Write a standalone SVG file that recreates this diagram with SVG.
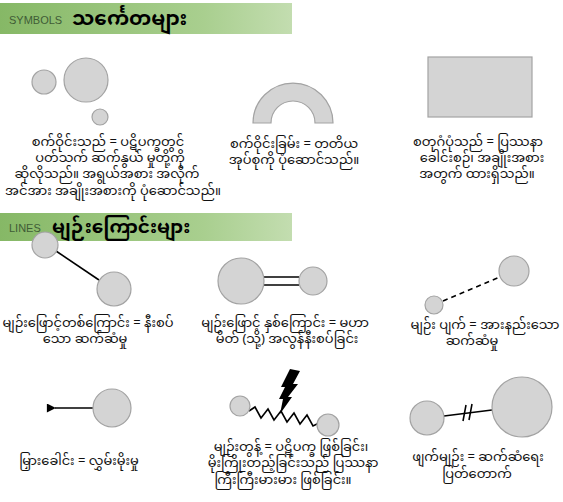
<svg xmlns="http://www.w3.org/2000/svg" width="563" height="502" viewBox="0 0 563 502">
<defs>
<linearGradient id="hdr" x1="0" y1="0" x2="1" y2="0">
<stop offset="0" stop-color="#86b866"/>
<stop offset="0.7" stop-color="#a9cf8f"/>
<stop offset="1" stop-color="#c3ddb0"/>
</linearGradient>
<marker id="arrow" viewBox="0 0 10 10" refX="1" refY="5" markerWidth="11" markerHeight="9" markerUnits="userSpaceOnUse" orient="auto">
<path d="M10,0 L0,5 L10,10 z" fill="#000"/>
</marker>
<style>
.shape{fill:#d4d4d4;stroke:#a3a3a3;stroke-width:1.2}
.t{font-family:"Noto Sans Myanmar","Padauk","Myanmar Text","Noto Sans","DejaVu Sans",sans-serif;font-size:13px;fill:#111;text-anchor:middle}
.h{font-family:"Noto Sans Myanmar","Padauk","Myanmar Text","Noto Sans","DejaVu Sans",sans-serif;font-weight:bold;fill:#000}
.hl{font-family:"Liberation Sans Narrow","Liberation Sans","DejaVu Sans Condensed",sans-serif;font-size:11px;fill:#3f5c36}
.ln{stroke:#000;stroke-width:1.6;fill:none}
</style>
</defs>
<rect width="563" height="502" fill="#fff"/>

<g id="header-symbols">
<rect x="0" y="3" width="292" height="31" fill="url(#hdr)"/>
<text class="hl" x="9" y="24">SYMBOLS</text>
<text class="h" x="72" y="25" font-size="20">သင်္ကေတများ</text>
</g>

<g id="sym-circles">
<circle class="shape" cx="44" cy="82" r="12"/>
<circle class="shape" cx="86" cy="80" r="22"/>
<circle class="shape" cx="100" cy="117" r="8"/>
<text class="t" x="108" y="146">စက်ဝိုင်းသည် = ပဋိပက္ခတွင်</text>
<text class="t" x="110" y="162">ပတ်သက် ဆက်နွယ် မှုတို့ကို</text>
<text class="t" x="107" y="178">ဆိုလိုသည်။ အရွယ်အစား အလိုက်</text>
<text class="t" x="113" y="195">အင်အား အချိုးအစားကို ပုံဆောင်သည်။</text>
</g>

<g id="sym-halfcircle">
<path class="shape" d="M253,123 A40,40 0 0 1 333,123 L315,123 A22,22 0 0 0 271,123 Z"/>
<text class="t" x="294" y="148">စက်ဝိုင်းခြမ်း = တတိယ</text>
<text class="t" x="294" y="164">အုပ်စုကို ပုံဆောင်သည်။</text>
</g>

<g id="sym-rect">
<rect class="shape" x="428" y="57" width="104" height="60"/>
<text class="t" x="478" y="146">စတုဂံပုံသည် = ပြဿနာ</text>
<text class="t" x="482" y="162">ခေါင်းစဉ်၊ အချိုးအစား</text>
<text class="t" x="477" y="178">အတွက် ထားရှိသည်။</text>
</g>

<g id="header-lines">
<rect x="0" y="213" width="292" height="28" fill="url(#hdr)"/>
<text class="hl" x="9" y="232">LINES</text>
<text class="h" x="52" y="233" font-size="18.5">မျဉ်းကြောင်းများ</text>
</g>

<g id="connectors">
<line class="ln" x1="56" y1="251" x2="99" y2="280"/>
<line class="ln" x1="264" y1="277" x2="299" y2="277" stroke-width="1.3"/>
<line class="ln" x1="264" y1="285" x2="299" y2="285" stroke-width="1.3"/>
<line class="ln" x1="443" y1="301" x2="500" y2="277" stroke-dasharray="5,4"/>
<line class="ln" x1="93" y1="408" x2="55" y2="408" marker-end="url(#arrow)"/>
<polyline class="ln" stroke-width="1.4" points="249,411 255,407 261,418 268,409 274,420 281,411 287,422 294,413 300,424 307,415 313,426 319,423"/>
<line class="ln" x1="444" y1="416" x2="492" y2="410"/>
<line class="ln" x1="463" y1="421" x2="466" y2="405" stroke-width="1.8"/>
<line class="ln" x1="469" y1="420" x2="472" y2="404" stroke-width="1.8"/>
<polygon fill="#000" points="290,369 300,371 293,384 298,384 288,397 292,397 280,414 283,399 279,399 285,387 281,387"/>
</g>

<g id="line-straight">
<circle class="shape" cx="45" cy="245" r="13"/>
<circle class="shape" cx="114" cy="289" r="17"/>
<text class="t" x="88" y="327">မျဉ်းဖြောင့်တစ်ကြောင်း = နီးစပ်</text>
<text class="t" x="85" y="343">သော ဆက်ဆံမှု</text>
</g>

<g id="line-double">
<circle class="shape" cx="241" cy="281" r="23"/>
<circle class="shape" cx="313" cy="281" r="14"/>
<text class="t" x="285" y="327">မျဉ်းဖြောင့် နှစ်ကြောင်း = မဟာ</text>
<text class="t" x="287" y="343">မိတ် (သို့) အလွန်နီးစပ်ခြင်း</text>
</g>

<g id="line-dashed">
<circle class="shape" cx="434" cy="305" r="9"/>
<circle class="shape" cx="514" cy="271" r="15"/>
<text class="t" x="485" y="329">မျဉ်း ပျက် = အားနည်းသော</text>
<text class="t" x="472" y="345">ဆက်ဆံမှု</text>
</g>

<g id="line-arrow">
<circle class="shape" cx="112" cy="408" r="19"/>
<text class="t" x="79" y="465">မြှားခေါင်း = လွှမ်းမိုးမှု</text>
</g>

<g id="line-zigzag">
<circle class="shape" cx="240" cy="406" r="10"/>
<circle class="shape" cx="328" cy="425" r="11"/>
<text class="t" x="291" y="451">မျဉ်းတွန့် = ပဋိပက္ခ ဖြစ်ခြင်း၊</text>
<text class="t" x="293" y="467">မိုးကြိုးတည့်ခြင်းသည် ပြဿနာ</text>
<text class="t" x="283" y="484">ကြီးကြီးမားမား ဖြစ်ခြင်း။</text>
</g>

<g id="line-broken">
<circle class="shape" cx="427" cy="418" r="17"/>
<circle class="shape" cx="522" cy="407" r="30"/>
<text class="t" x="478" y="461">ဖျက်မျဉ်း = ဆက်ဆံရေး</text>
<text class="t" x="477" y="478">ပြတ်တောက်</text>
</g>
</svg>
